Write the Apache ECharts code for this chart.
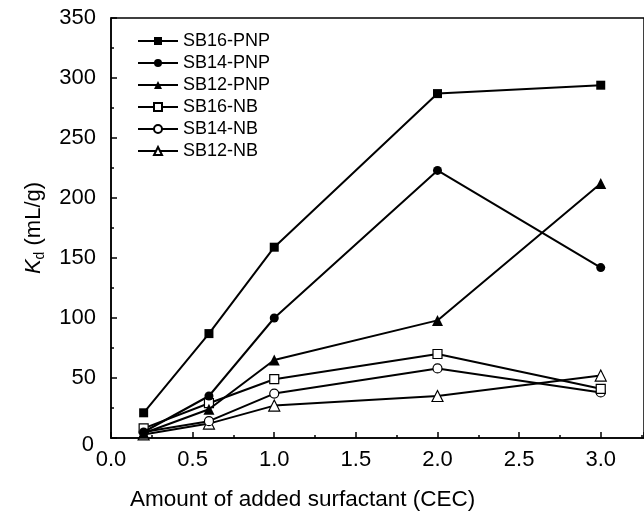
<!DOCTYPE html>
<html>
<head>
<meta charset="utf-8">
<script src="https://cdn.jsdelivr.net/npm/echarts@6/dist/echarts.min.js"></script>
<style>
  html, body { margin: 0; padding: 0; background: #fff; }
  #chart { width: 644px; height: 515px; }
</style>
</head>
<body>
<div id="chart"></div>
<script>
// amount of added surfactant (CEC)
const xValues = [0.2, 0.6, 1.0, 2.0, 3.0]

const seriesNames = ['SB16-PNP', 'SB14-PNP', 'SB12-PNP', 'SB16-NB', 'SB14-NB', 'SB12-NB']

// Kd (mL/g)
const sb16Pnp = [21, 87, 159, 287, 294]
const sb14Pnp = [5, 35, 100, 223, 142]
const sb12Pnp = [4, 24, 65, 98, 212]
const sb16Nb = [8, 29, 49, 70, 41]
const sb14Nb = [5, 14, 37, 58, 38]
const sb12Nb = [3, 12, 27, 35, 52]

const seriesValues = [sb16Pnp, sb14Pnp, sb12Pnp, sb16Nb, sb14Nb, sb12Nb]
const symbols = ['rect', 'circle', 'triangle', 'rect', 'circle', 'triangle']
const filled = [true, true, true, false, false, false]

const font = '"Liberation Sans", Arial, sans-serif'

const chart = echarts.init(document.getElementById('chart'))

const series = seriesNames.map((name, i) => ({
  name,
  type: 'line',
  data: xValues.map((x, j) => [x, seriesValues[i][j]]),
  symbol: symbols[i],
  symbolSize: symbols[i] === 'triangle' ? 11 : 9,
  showAllSymbol: true,
  lineStyle: { color: '#000', width: 2 },
  itemStyle: {
    color: filled[i] ? '#000' : '#fff',
    borderColor: '#000',
    borderWidth: filled[i] ? 0 : 1.2
  },
  emphasis: { disabled: true },
  animation: false,
  z: 10 - i
}))

chart.setOption({
  backgroundColor: '#fff',
  animation: false,
  grid: {
    left: 111, right: -2, top: 18, bottom: 77,
    show: true, borderColor: '#000', borderWidth: 1.5
  },
  legend: {
    orient: 'vertical',
    left: 132,
    top: 27,
    itemWidth: 40,
    itemHeight: 10,
    itemGap: 4,
    data: seriesNames,
    textStyle: { fontFamily: font, fontSize: 18, color: '#000' }
  },
  xAxis: {
    type: 'value',
    min: 0,
    max: 3.265,
    interval: 0.5,
    axisLine: { lineStyle: { color: '#000', width: 1.5 } },
    axisTick: { inside: true, length: 6, lineStyle: { color: '#000', width: 1.5 } },
    minorTick: { show: true, splitNumber: 2, length: 3, lineStyle: { color: '#000', width: 1.5 } },
    splitLine: { show: false },
    axisLabel: {
      color: '#000', fontFamily: font, fontSize: 22, margin: 11,
      showMaxLabel: false,
      formatter: v => v.toFixed(1)
    }
  },
  yAxis: {
    type: 'value',
    min: 0,
    max: 350,
    interval: 50,
    name: '{k|K}{d|d}{n| (mL/g)}',
    nameLocation: 'middle',
    nameGap: 64,
    nameTextStyle: {
      rich: {
        k: { fontFamily: font, fontSize: 22, fontStyle: 'italic', color: '#000' },
        d: { fontFamily: font, fontSize: 14, color: '#000', padding: [13, 0, 0, 0] },
        n: { fontFamily: font, fontSize: 22, color: '#000' }
      }
    },
    axisLine: { show: true, lineStyle: { color: '#000', width: 1.5 } },
    axisTick: { inside: true, length: 6, lineStyle: { color: '#000', width: 1.5 } },
    minorTick: { show: true, splitNumber: 2, length: 3, lineStyle: { color: '#000', width: 1.5 } },
    splitLine: { show: false },
    axisLabel: {
      color: '#000', fontFamily: font, fontSize: 22, margin: 15,
      formatter: v => v === 0 ? '{z|0}' : String(v),
      rich: { z: { fontFamily: font, fontSize: 22, color: '#000', padding: [14, 2, 0, 0] } }
    }
  },
  graphic: [{
    type: 'text',
    left: 130,
    top: 488,
    style: {
      text: 'Amount of added surfactant (CEC)',
      font: '22.5px ' + font,
      fill: '#000'
    }
  }],
  series
})
</script>
</body>
</html>
